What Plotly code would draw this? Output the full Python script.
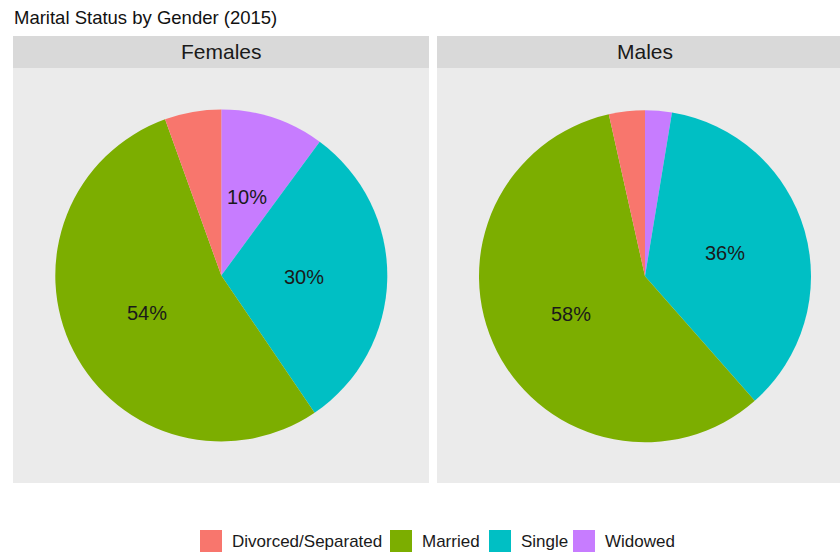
import math
import plotly.graph_objects as go

# ---- data ----
categories = ["Widowed", "Single", "Married", "Divorced/Separated"]
females = [10.1, 30.4, 54.0, 5.5]
males = [2.6, 35.9, 58.0, 3.5]
panels = ["Females", "Males"]
legend_order = ["Divorced/Separated", "Married", "Single", "Widowed"]
colors = {"Divorced/Separated": "#F8766D", "Married": "#7CAE00",
          "Single": "#00BFC4", "Widowed": "#C77CFF"}

W, H = 840, 556
FONT = "Liberation Sans, Arial, sans-serif"


def px(x):
    return x / W


def py(y):  # y measured from top in pixels -> paper fraction
    return 1 - y / H


fig = go.Figure()

# panel geometry (pixels)
panel_x = [(13, 429), (437, 840)]
strip_centers = [221, 645]
strip_top, strip_bot, panel_bot = 36, 68, 483
pie_centers = [(221.3, 275.5), (645.0, 276.3)]
R = 166

shapes = []
annotations = []
for (x0, x1), sc, name in zip(panel_x, strip_centers, panels):
    shapes.append(dict(type="rect", xref="paper", yref="paper",
                       x0=px(x0), x1=px(x1), y0=py(strip_bot), y1=py(panel_bot),
                       fillcolor="#EBEBEB", line=dict(width=0), layer="below"))
    shapes.append(dict(type="rect", xref="paper", yref="paper",
                       x0=px(x0), x1=px(x1), y0=py(strip_top), y1=py(strip_bot),
                       fillcolor="#D9D9D9", line=dict(width=0), layer="below"))
    annotations.append(dict(text=name, xref="paper", yref="paper",
                            x=px(sc), y=py((strip_top + strip_bot) / 2),
                            xanchor="center", yanchor="middle", showarrow=False,
                            font=dict(family=FONT, size=21, color="#1A1A1A")))

for vals, (cx, cy) in zip([females, males], pie_centers):
    fig.add_trace(go.Pie(
        labels=categories, values=vals, textinfo="none",
        sort=False, direction="clockwise", rotation=0,
        marker=dict(colors=[colors[c] for c in categories], line=dict(width=0)),
        domain=dict(x=[px(cx - R), px(cx + R)], y=[py(cy + R), py(cy - R)]),
        showlegend=False, hoverinfo="label+percent",
    ))
    # percentage labels at the mid-angle of each slice, half-way out (as geom_text does)
    total = sum(vals)
    cum = 0.0
    for v in vals:
        mid = (cum + v / 2) / total * 2 * math.pi
        cum += v
        if v < 10:
            continue
        lx = cx + 0.5 * R * math.sin(mid)
        ly = cy - 0.5 * R * math.cos(mid)
        annotations.append(dict(text=f"{v:.0f}%", xref="paper", yref="paper",
                                x=px(lx), y=py(ly), xanchor="center", yanchor="middle",
                                showarrow=False,
                                font=dict(family=FONT, size=20, color="#1A1A1A")))

# title
annotations.append(dict(text="Marital Status by Gender (2015)", xref="paper", yref="paper",
                        x=px(12), y=py(17), xanchor="left", yanchor="middle",
                        showarrow=False, font=dict(family=FONT, size=18.5, color="#111111")))

# legend (bottom, horizontal)
key_x = [200, 390, 489, 573]
key_size = 22
legend_y = 541
for cat, kx in zip(legend_order, key_x):
    shapes.append(dict(type="rect", xref="paper", yref="paper",
                       x0=px(kx), x1=px(kx + key_size),
                       y0=py(legend_y + key_size / 2), y1=py(legend_y - key_size / 2),
                       fillcolor=colors[cat], line=dict(width=0)))
    annotations.append(dict(text=cat, xref="paper", yref="paper",
                            x=px(kx + key_size + 8), y=py(legend_y),
                            xanchor="left", yanchor="middle", showarrow=False,
                            font=dict(family=FONT, size=17, color="#1A1A1A")))

fig.update_layout(
    width=W, height=H, margin=dict(l=0, r=0, t=0, b=0),
    paper_bgcolor="white", plot_bgcolor="white",
    shapes=shapes, annotations=annotations, showlegend=False,
    font=dict(family=FONT),
)

fig.write_html("out.html", config={"displayModeBar": False},
               post_script="document.body.style.margin='0px';")
